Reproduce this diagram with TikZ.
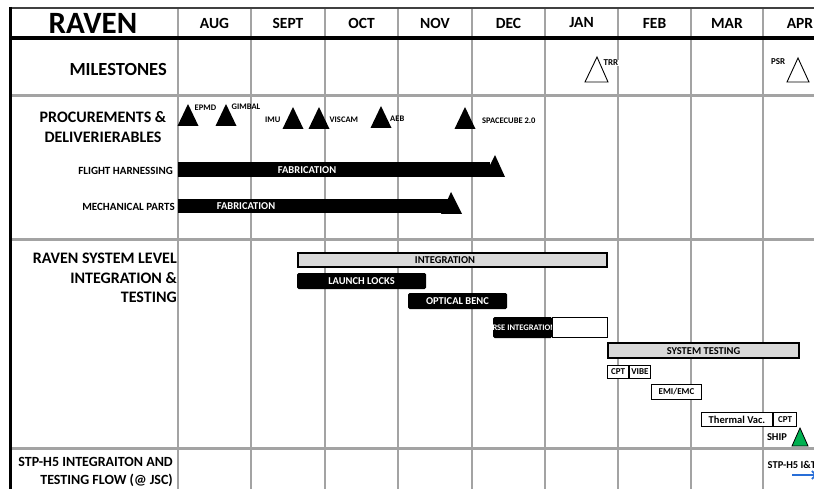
\documentclass[tikz,border=0pt]{standalone}
\usepackage{fontspec}
\setmainfont{Carlito}
\usepackage{tikz}
\usetikzlibrary{arrows.meta, positioning, calc}
\definecolor{gridcol}{RGB}{163,163,163}
\definecolor{taskcol}{RGB}{217,217,217}
\definecolor{shipcol}{RGB}{0,176,80}
\definecolor{flowcol}{RGB}{40,110,215}

\begin{document}
\begin{tikzpicture}[x=1pt, y=-1pt,
  month/.style={font=\bfseries\fontsize{15.5}{18}\selectfont, inner sep=0pt},
  rowlab/.style={font=\bfseries\fontsize{16}{19.5}\selectfont, inner sep=0pt},
  sublab/.style={font=\bfseries\fontsize{11}{13}\selectfont, anchor=east, inner sep=0pt},
  tag/.style={font=\bfseries\fontsize{8.5}{10}\selectfont, inner sep=0.5pt},
  gridline/.style={draw=gridcol, line width=1.8pt},
  rowline/.style={draw=gridcol, line width=3pt},
  fabbar/.style={fill=black, inner sep=0pt, minimum height=15pt},
  fabtxt/.style={text=white, font=\bfseries\fontsize{10.5}{12}\selectfont, inner sep=0pt},
  task/.style={draw=black, line width=1.8pt, fill=taskcol, inner sep=0pt},
  tasktxt/.style={font=\bfseries\fontsize{10.5}{12}\selectfont, inner sep=0pt},
  blk/.style={fill=black, rounded corners=1.5pt, text=white, inner sep=0pt,
              font=\bfseries\fontsize{10.5}{12}\selectfont},
  wbox/.style={draw=black, line width=1.6pt, fill=white, inner sep=0pt,
               font=\bfseries\fontsize{9}{10}\selectfont}
]
  \useasboundingbox (0,0) rectangle (814,489);
  \clip (0,0) rectangle (814,489);
  \fill[white] (0,0) rectangle (814,489);

  % grid
  \foreach \gx in {178,251,325,398,472,545,618,691,763}
    \draw[gridline] (\gx,8) -- (\gx,489);
  \foreach \ry in {96,240,448}
    \draw[rowline] (10,\ry) -- (814,\ry);
  \draw[black!75, line width=1.8pt] (10,8) -- (814,8);
  \draw[black, line width=4pt] (9,38) -- (814,38);
  \draw[black, line width=3pt] (10,7) -- (10,489);

  % header
  \node[font=\bfseries\fontsize{31}{36}\selectfont, inner sep=0pt] (title) at (93,23) {RAVEN};
  \foreach \mx/\mn [count=\i] in {214.5/AUG,288/SEPT,361.5/OCT,435/NOV,508.5/DEC,
                                  581.5/JAN,654.5/FEB,727/MAR,800/APR}
    \node[month] (m\i) at (\mx,23) {\mn};

  % row labels
  \node[rowlab, font=\bfseries\fontsize{18.5}{20}\selectfont, anchor=east] (miles) at (167,69) {MILESTONES};
  \node[rowlab, align=center] (procure) at (103,127) {PROCUREMENTS \&\\DELIVERIERABLES};
  \node[rowlab, align=right, anchor=east] (sysint) at (177,278) {RAVEN SYSTEM LEVEL\\INTEGRATION \&\\TESTING};
  \node[rowlab, align=right, anchor=east, font=\bfseries\fontsize{14}{18}\selectfont] (stp) at (173,472)
    {STP-H5 INTEGRAITON AND\\TESTING FLOW (@ JSC)};

  % milestones
  \draw[line width=0.9pt, fill=white] (585,82) -- (608,82) -- (597,57) -- cycle;
  \node[tag, font=\bfseries\fontsize{9}{10}\selectfont, fill=white, anchor=west] (trr) at (603,63) {TRR};
  \draw[line width=0.9pt, fill=white] (787,82) -- (809,82) -- (798,58) -- cycle;
  \node[tag, font=\bfseries\fontsize{9}{10}\selectfont, anchor=east] (psr) at (786,62) {PSR};

  % deliveries
  \foreach \dx/\dy in {188/126,226/126,293/129,319/129,381/128,465/129}
    \fill (\dx-10.5,\dy) -- (\dx+10.5,\dy) -- (\dx,\dy-22) -- cycle;
  \node[tag, anchor=west] (epmd) at (194,108) {EPMD};
  \node[tag, anchor=west] (gimbal) at (231,107) {GIMBAL};
  \node[tag, anchor=east] (imu) at (281,120) {IMU};
  \node[tag, anchor=west] (viscam) at (329,120) {VISCAM};
  \node[tag, anchor=west] (aeb) at (389.5,119) {AEB};
  \node[tag, fill=white, anchor=west, inner sep=1pt] (scube) at (481,121) {SPACECUBE 2.0};

  \node[sublab] (harn) at (173,171) {FLIGHT HARNESSING};
  \node[fabbar, minimum width=312pt] (harnbar) at (334,169.5) {};
  \fill (484,177) -- (505,177) -- (495,155) -- cycle;
  \node[fabtxt] (harntxt) at (307,170.5) {FABRICATION};

  \node[sublab] (mech) at (175,207) {MECHANICAL PARTS};
  \node[fabbar, minimum width=272pt, minimum height=14pt] (mechbar) at (314,206) {};
  \fill (441,214) -- (462,214) -- (451,192) -- cycle;
  \node[fabtxt] (mechtxt) at (246,206.5) {FABRICATION};

  % integration and testing
  \node[task, minimum width=309pt, minimum height=14.5pt] (integ) at (452.5,260) {};
  \node[tasktxt] (integtxt) at (445,260.5) {INTEGRATION};
  \node[blk, minimum width=129pt, minimum height=16pt] (locks) at (361.5,281) {LAUNCH LOCKS};
  \node[blk, minimum width=99pt, minimum height=16pt] (bench) at (457.5,301) {OPTICAL BENC};
  \node[blk, minimum width=59pt, minimum height=21pt] (rse) at (522.5,327.5) {};
  \begin{scope}
    \clip (rse.south west) rectangle (rse.north east);
    \node[anchor=west, text=white, inner sep=0pt, font=\bfseries\fontsize{8.5}{10}\selectfont]
      (rsetxt) at ([xshift=-0.5pt]rse.west) {RSE INTEGRATION};
  \end{scope}
  \node[wbox, minimum width=55pt, minimum height=20pt] (rsenext) at (580,327.5) {};

  \node[task, minimum width=191pt, minimum height=15pt] (systest) at (703.5,350.5) {};
  \node[tasktxt] (systxt) at (703.5,351) {SYSTEM TESTING};
  \node[wbox, minimum width=21pt, minimum height=13pt] (cpta) at (618,372) {CPT};
  \node[wbox, minimum width=21pt, minimum height=13pt] (vibe) at (640,372) {VIBE};
  \node[wbox, minimum width=50pt, minimum height=15pt] (emi) at (676.5,392) {EMI/EMC};
  \node[wbox, minimum width=71pt, minimum height=14pt, font=\bfseries\fontsize{10.5}{12}\selectfont]
    (tvac) at (737,419.5) {Thermal Vac.};
  \node[wbox, minimum width=23pt, minimum height=14pt] (cptb) at (785,419.5) {CPT};
  \node[tag, font=\bfseries\fontsize{10.5}{12}\selectfont] (ship) at (777,437) {SHIP};
  \draw[fill=shipcol, line width=0.8pt] (792,446) -- (808,446) -- (800,428) -- cycle;

  % STP-H5 flow
  \node[tag, anchor=west, font=\bfseries\fontsize{10.5}{12}\selectfont] (stpit) at (767,465) {STP-H5 I\&T};
  \coordinate (flowa) at (792,475);
  \coordinate (flowb) at (817,475);
  \draw[flowcol, line width=1.6pt, -{Straight Barb[length=4pt]}] (flowa) -- (flowb);
\end{tikzpicture}
\end{document}
